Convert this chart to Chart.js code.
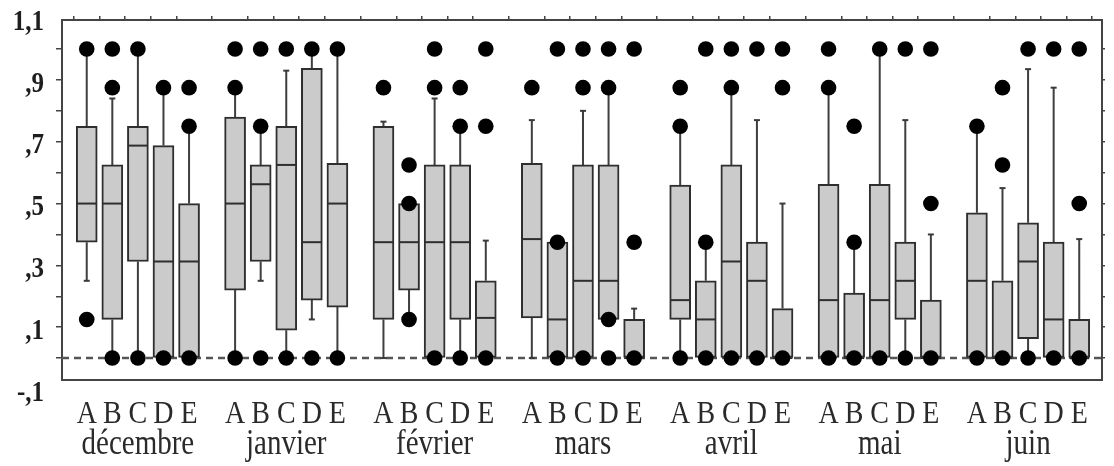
<!DOCTYPE html>
<html>
<head>
<meta charset="utf-8">
<script src="https://cdn.jsdelivr.net/npm/chart.js@4.4.1/dist/chart.umd.min.js"></script>
<style>
  html, body { margin: 0; background: #fff; }
</style>
</head>
<body>
<canvas id="box" width="1114" height="466"></canvas>
<script>
const months = ['décembre', 'janvier', 'février', 'mars', 'avril', 'mai', 'juin'];
const groups = ['A', 'B', 'C', 'D', 'E'];

// one row per month, columns A..E
const whiskerLow = [
  [0.25, 0, 0, 0, 0],
  [0, 0.25, 0, 0.125, 0],
  [0, 0.125, 0, 0, 0],
  [0, 0, 0, 0.125, 0],
  [0, 0, 0, 0, 0],
  [0, 0, 0, 0, 0],
  [0, 0, 0, 0, 0]
];
const q1 = [
  [0.375, 0.125, 0.3125, 0, 0],
  [0.22, 0.3125, 0.09, 0.1875, 0.165],
  [0.125, 0.22, 0, 0.125, 0],
  [0.13, 0, 0, 0.125, 0],
  [0.125, 0, 0, 0, 0],
  [0, 0, 0, 0.125, 0],
  [0, 0, 0.0625, 0, 0]
];
const median = [
  [0.5, 0.5, 0.6875, 0.3125, 0.3125],
  [0.5, 0.5625, 0.625, 0.375, 0.5],
  [0.375, 0.375, 0.375, 0.375, 0.13],
  [0.385, 0.125, 0.25, 0.25, 0],
  [0.1875, 0.125, 0.3125, 0.25, 0],
  [0.1875, 0, 0.1875, 0.25, 0],
  [0.25, 0, 0.3125, 0.125, 0]
];
const q3 = [
  [0.75, 0.625, 0.75, 0.6875, 0.5],
  [0.78, 0.625, 0.75, 0.9375, 0.63],
  [0.75, 0.5, 0.625, 0.625, 0.25],
  [0.63, 0.375, 0.625, 0.625, 0.125],
  [0.56, 0.25, 0.625, 0.375, 0.16],
  [0.5625, 0.21, 0.5625, 0.375, 0.1875],
  [0.47, 0.25, 0.4375, 0.375, 0.125]
];
const whiskerHigh = [
  [1, 0.84, 1, 0.875, 0.75],
  [0.875, 0.75, 0.93, 1, 1],
  [0.765, 0.5, 0.84, 0.75, 0.38],
  [0.77, 0.375, 0.8, 0.875, 0.16],
  [0.75, 0.375, 0.875, 0.77, 0.5],
  [0.875, 0.375, 1, 0.77, 0.4],
  [0.75, 0.55, 0.935, 0.875, 0.385]
];
const outliers = [
  [[1, 0.125], [1, 0.875, 0], [1, 0], [0.875, 0], [0.875, 0.75, 0]],
  [[1, 0.875, 0], [1, 0.75, 0], [1, 0], [1, 0], [1, 0]],
  [[0.875], [0.625, 0.5, 0.125], [1, 0.875, 0], [0.875, 0.75, 0], [1, 0.75, 0]],
  [[0.875], [1, 0.375, 0], [1, 0.875, 0], [1, 0.875, 0.125, 0], [1, 0.375, 0]],
  [[0.875, 0.75, 0], [1, 0.375, 0], [1, 0.875, 0], [1, 0], [1, 0.875, 0]],
  [[1, 0.875, 0], [0.75, 0.375, 0], [1, 0], [1, 0], [1, 0.5, 0]],
  [[0.75, 0], [0.875, 0.625, 0], [1, 0], [1, 0], [1, 0.5, 0]]
];

const yTickValues = [-0.1, 0.1, 0.3, 0.5, 0.7, 0.9, 1.1];
const yTickLabels = ['-,1', ',1', ',3', ',5', ',7', ',9', '1,1'];

// layout of the x axis: one unit per box, a wider step between months
const MONTH_STEP = 5.8;
const X_MIN = -0.967, X_MAX = 39.69;
const Y_MIN = -0.071, Y_MAX = 1.094;
const pos = (i, j) => i * MONTH_STEP + j;

const boxes = [], medians = [], caps = [], whiskers = [], dots = [], boxPositions = [];
months.forEach((m, i) => {
  groups.forEach((g, j) => {
    const x = pos(i, j);
    boxPositions.push(x);
    boxes.push({ x, y: [q1[i][j], q3[i][j]] });
    medians.push({ x, y: median[i][j] });
    caps.push({ x, y: whiskerLow[i][j] }, { x, y: whiskerHigh[i][j] });
    whiskers.push({ x, y: q3[i][j] }, { x, y: whiskerHigh[i][j] }, { x, y: null });
    whiskers.push({ x, y: whiskerLow[i][j] }, { x, y: q1[i][j] }, { x, y: null });
    outliers[i][j].forEach(v => dots.push({ x, y: v }));
  });
});

const tenths = [];
for (let k = 0; k <= 10; k++) tenths.push({ value: k / 10 });

const axisLabels = {
  id: 'axisLabels',
  afterDraw(chart) {
    const { ctx, scales: { x, y } } = chart;
    ctx.save();
    ctx.fillStyle = '#1e1e1e';

    ctx.font = 'bold 25px "Liberation Serif"';
    ctx.textAlign = 'right';
    ctx.textBaseline = 'middle';
    yTickValues.forEach((v, k) => {
      ctx.save();
      ctx.translate(44, y.getPixelForValue(v) + 4);
      ctx.scale(1, 1.2);
      ctx.fillText(yTickLabels[k], 0, 0);
      ctx.restore();
    });

    ctx.textAlign = 'center';
    ctx.textBaseline = 'alphabetic';
    ctx.fillStyle = '#2a2a2a';
    months.forEach((m, i) => {
      ctx.font = '28px "Liberation Serif"';
      groups.forEach((g, j) => {
        ctx.save();
        ctx.translate(x.getPixelForValue(pos(i, j)), 423);
        ctx.scale(1, 1.15);
        ctx.fillText(g, 0, 0);
        ctx.restore();
      });
      ctx.font = '29px "Liberation Serif"';
      ctx.save();
      ctx.translate(x.getPixelForValue(pos(i, 2)), 454);
      ctx.scale(1, 1.2);
      ctx.fillText(m, 0, 0);
      ctx.restore();
    });
    ctx.restore();
  }
};

const frame = { color: '#444', width: 2 };

new Chart(document.getElementById('box'), {
  type: 'bar',
  data: {
    datasets: [
      {
        type: 'scatter',
        data: dots,
        pointRadius: 7.8,
        pointHoverRadius: 7.8,
        backgroundColor: '#000',
        borderWidth: 0,
        order: 0
      },
      {
        type: 'scatter',
        data: medians,
        pointStyle: 'line',
        pointRadius: 10,
        borderColor: '#2e2e2e',
        borderWidth: 2,
        order: 1
      },
      {
        type: 'scatter',
        data: caps,
        pointStyle: 'line',
        pointRadius: 3,
        borderColor: '#3a3a3a',
        borderWidth: 2,
        order: 1
      },
      {
        type: 'bar',
        data: boxes,
        backgroundColor: '#cbcbcb',
        borderColor: '#2e2e2e',
        borderWidth: 2,
        borderSkipped: false,
        barThickness: 21,
        order: 2
      },
      {
        type: 'line',
        data: whiskers,
        borderColor: '#3f3f3f',
        borderWidth: 2,
        pointRadius: 0,
        spanGaps: false,
        order: 3
      },
      {
        type: 'line',
        data: [{ x: X_MIN, y: 0 }, { x: X_MAX, y: 0 }],
        borderColor: '#555',
        borderWidth: 2.5,
        borderDash: [7, 5],
        pointRadius: 0,
        order: 4
      }
    ]
  },
  options: {
    responsive: false,
    animation: false,
    plugins: { legend: { display: false }, tooltip: { enabled: false } },
    scales: {
      x: {
        type: 'linear', min: X_MIN, max: X_MAX, offset: false,
        grid: { display: false }, border: frame, ticks: { display: false },
        afterFit: s => { s.height = 86; }
      },
      xTop: {
        type: 'linear', axis: 'x', position: 'top', min: X_MIN, max: X_MAX, offset: false,
        afterBuildTicks: s => { s.ticks = boxPositions.map(v => ({ value: v })); },
        grid: { drawOnChartArea: false, tickLength: 4, color: '#444', lineWidth: 1.5 },
        border: frame, ticks: { display: false },
        afterFit: s => { s.height = 20; }
      },
      y: {
        min: Y_MIN, max: Y_MAX,
        afterBuildTicks: s => { s.ticks = tenths.slice(); },
        grid: { drawOnChartArea: false, tickLength: 6, color: '#444', lineWidth: 1.5 },
        border: frame, ticks: { display: false },
        afterFit: s => { s.width = 62; }
      },
      yRight: {
        axis: 'y', position: 'right', min: Y_MIN, max: Y_MAX,
        afterBuildTicks: s => { s.ticks = tenths.slice(); },
        grid: { drawOnChartArea: false, tickLength: 3, color: '#444', lineWidth: 1.5 },
        border: frame, ticks: { display: false },
        afterFit: s => { s.width = 2; }
      }
    }
  },
  plugins: [axisLabels]
});
</script>
</body>
</html>
